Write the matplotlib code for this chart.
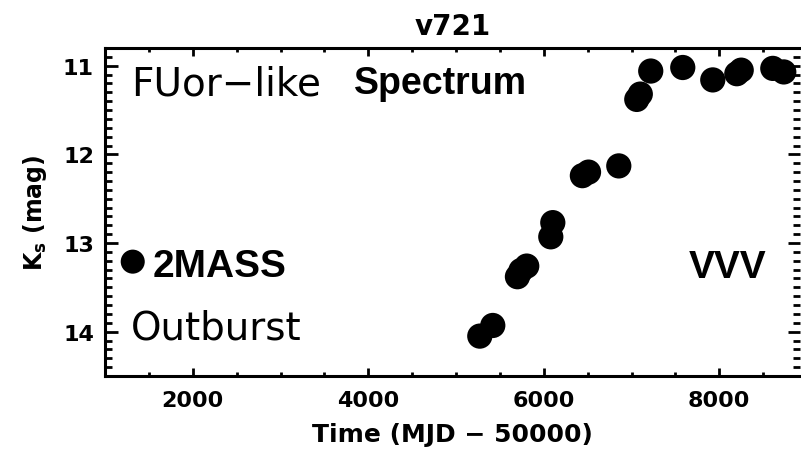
import matplotlib
matplotlib.use('Agg')
import matplotlib.pyplot as plt
from matplotlib.ticker import MultipleLocator

# K_s light curve of v721: 2MASS epoch plus VVV monitoring
mjd_2mass = [1316]
ks_2mass = [13.21]

mjd_vvv = [5271, 5419, 5700, 5740, 5806, 6080, 6103, 6440, 6510, 6855,
           7060, 7100, 7219, 7584, 7926, 8200, 8250, 8610, 8735]
ks_vvv = [14.05, 13.93, 13.38, 13.31, 13.26, 12.93, 12.77, 12.24, 12.20, 12.13,
          11.38, 11.32, 11.06, 11.02, 11.16, 11.09, 11.05, 11.03, 11.07]

x_ticks = [2000, 4000, 6000, 8000]
y_ticks = [11, 12, 13, 14]

W, H = 801, 456
fig = plt.figure(figsize=(W / 100, H / 100), dpi=100)
ax = fig.add_axes([105 / W, (H - 377) / H, 695 / W, 328 / H])

ax.scatter(mjd_2mass, ks_2mass, s=300, color='black', edgecolors='none', zorder=3)
ax.scatter(mjd_vvv, ks_vvv, s=330, color='black', edgecolors='none', zorder=3,
           clip_on=False)

ax.set_xlim(1000, 8920)
ax.set_ylim(14.5, 10.8)

ax.set_xticks(x_ticks)
ax.set_yticks(y_ticks)
ax.xaxis.set_minor_locator(MultipleLocator(500))
ax.yaxis.set_minor_locator(MultipleLocator(0.1))

ax.tick_params(which='both', direction='in', top=True, right=True, width=2)
ax.tick_params(axis='x', which='major', length=6, pad=10)
ax.tick_params(axis='x', which='minor', length=3)
ax.tick_params(axis='y', which='major', length=9, pad=8)
ax.tick_params(axis='y', which='minor', length=5)

for lab in ax.get_xticklabels() + ax.get_yticklabels():
    lab.set_fontsize(16)
    lab.set_fontweight('bold')

for side in ['left', 'top', 'bottom']:
    ax.spines[side].set_linewidth(2.2)
ax.spines['right'].set_visible(False)

ax.set_title('v721', fontsize=20, fontweight='bold', pad=10)
ax.set_xlabel('Time (MJD \u2212 50000)', fontsize=18, fontweight='bold', labelpad=9)
ax.set_ylabel(r'$\mathbf{K_s}$ (mag)', fontsize=17, fontweight='bold', labelpad=10)

ax.text(1293, 11.32, 'FUor\u2212like', fontsize=28, va='baseline', ha='left')
ax.text(3835, 11.31, 'Spectrum', fontsize=27, fontweight='bold',
        family='Liberation Sans', va='baseline', ha='left')
ax.text(1544, 13.37, '2MASS', fontsize=28, fontweight='bold',
        family='Liberation Sans', va='baseline', ha='left')
ax.text(7652, 13.38, 'VVV', fontsize=28, fontweight='bold',
        family='Liberation Sans', va='baseline', ha='left')
ax.text(1293, 14.08, 'Outburst', fontsize=28, va='baseline', ha='left')

fig.savefig('out.png', dpi=100)
